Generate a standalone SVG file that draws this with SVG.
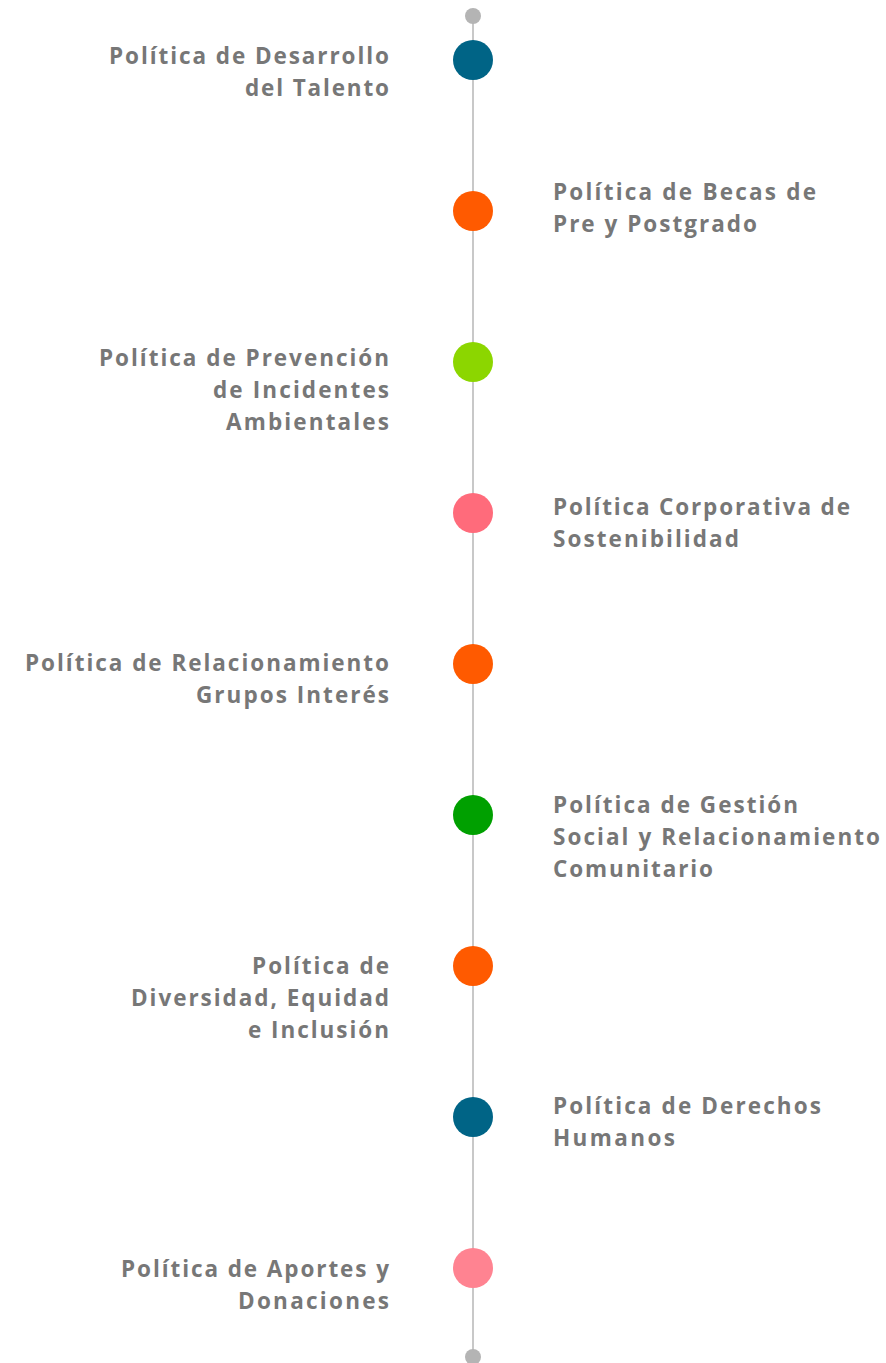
<svg xmlns="http://www.w3.org/2000/svg" width="886" height="1363" viewBox="0 0 886 1363">
<style>
.t{font-family:"Open Sans",Inter,"Liberation Sans",sans-serif;font-weight:700;font-size:22.5px;fill:#777777}
.l{text-anchor:end}
.s{fill:#b4b4b4}
</style>
<rect width="886" height="1363" fill="#ffffff"/>
<g id="connectors">
<line x1="473" y1="16" x2="473" y2="1357" stroke="#c8c8c8" stroke-width="2"/>
</g>
<g id="start"><circle cx="473" cy="16" r="8" class="s"/></g>
<g id="end"><circle cx="473" cy="1357" r="8" class="s"/></g>
<g id="n1"><circle cx="473" cy="60" r="20" fill="#006486"/>
<text class="t l" x="389" y="64" textLength="280" lengthAdjust="spacing">Política de Desarrollo</text><text class="t l" x="389" y="96" textLength="144" lengthAdjust="spacing">del Talento</text></g>
<g id="n2"><circle cx="473" cy="211" r="20" fill="#ff5a00"/>
<text class="t" x="553" y="200" textLength="263" lengthAdjust="spacing">Política de Becas de</text><text class="t" x="553" y="232" textLength="204" lengthAdjust="spacing">Pre y Postgrado</text></g>
<g id="n3"><circle cx="473" cy="362" r="20" fill="#8cd600"/>
<text class="t l" x="389" y="366" textLength="290" lengthAdjust="spacing">Política de Prevención</text><text class="t l" x="389" y="398" textLength="176" lengthAdjust="spacing">de Incidentes</text><text class="t l" x="389" y="430" textLength="163" lengthAdjust="spacing">Ambientales</text></g>
<g id="n4"><circle cx="473" cy="513" r="20" fill="#ff6b7b"/>
<text class="t" x="553" y="515" textLength="297" lengthAdjust="spacing">Política Corporativa de</text><text class="t" x="553" y="547" textLength="186" lengthAdjust="spacing">Sostenibilidad</text></g>
<g id="n5"><circle cx="473" cy="664" r="20" fill="#ff5a00"/>
<text class="t l" x="389" y="671" textLength="364" lengthAdjust="spacing">Política de Relacionamiento</text><text class="t l" x="389" y="703" textLength="193" lengthAdjust="spacing">Grupos Interés</text></g>
<g id="n6"><circle cx="473" cy="815" r="20" fill="#00a000"/>
<text class="t" x="553" y="813" textLength="245" lengthAdjust="spacing">Política de Gestión</text><text class="t" x="553" y="845" textLength="327" lengthAdjust="spacing">Social y Relacionamiento</text><text class="t" x="553" y="877" textLength="160" lengthAdjust="spacing">Comunitario</text></g>
<g id="n7"><circle cx="473" cy="966" r="20" fill="#ff5a00"/>
<text class="t l" x="389" y="974" textLength="137" lengthAdjust="spacing">Política de</text><text class="t l" x="389" y="1006" textLength="258" lengthAdjust="spacing">Diversidad, Equidad</text><text class="t l" x="389" y="1038" textLength="141" lengthAdjust="spacing">e Inclusión</text></g>
<g id="n8"><circle cx="473" cy="1117" r="20" fill="#006486"/>
<text class="t" x="553" y="1114" textLength="268" lengthAdjust="spacing">Política de Derechos</text><text class="t" x="553" y="1146" textLength="122" lengthAdjust="spacing">Humanos</text></g>
<g id="n9"><circle cx="473" cy="1268" r="20" fill="#ff8391"/>
<text class="t l" x="389" y="1277" textLength="268" lengthAdjust="spacing">Política de Aportes y</text><text class="t l" x="389" y="1309" textLength="151" lengthAdjust="spacing">Donaciones</text></g>
</svg>
